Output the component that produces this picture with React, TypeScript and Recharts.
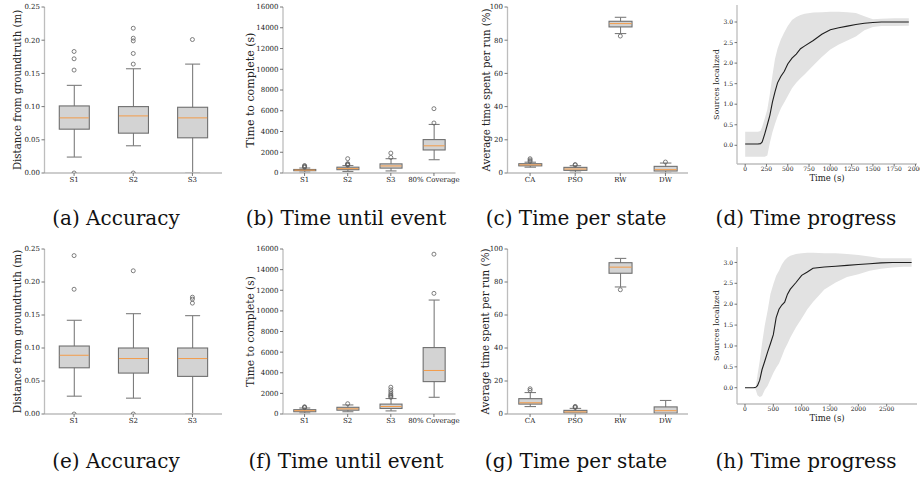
import React from 'react';
import { ComposedChart, Bar, Line, Area, XAxis, YAxis } from 'recharts';

// ---------------- data ----------------
// (a) Accuracy (top row)
const accTopCats = ['S1', 'S2', 'S3'];
const accTopLo = [0.024, 0.041, 0.0];
const accTopQ1 = [0.066, 0.060, 0.053];
const accTopMed = [0.083, 0.086, 0.083];
const accTopQ3 = [0.101, 0.100, 0.099];
const accTopHi = [0.132, 0.157, 0.164];
const accTopOut = [[0.0, 0.155, 0.172, 0.183], [0.0, 0.164, 0.180, 0.199, 0.203, 0.218], [0.201]];

// (b) Time until event (top row)
const evtTopCats = ['S1', 'S2', 'S3', '80% Coverage'];
const evtTopLo = [80, 150, 200, 1280];
const evtTopQ1 = [220, 320, 470, 2220];
const evtTopMed = [280, 420, 680, 2620];
const evtTopQ3 = [340, 560, 880, 3220];
const evtTopHi = [480, 720, 1380, 4680];
const evtTopOut = [[550, 600, 650, 720], [760, 800, 850, 900, 1380], [1500, 1920], [4820, 6200]];

// (c) Time per state (top row)
const stTopCats = ['CA', 'PSO', 'RW', 'DW'];
const stTopLo = [3.5, 0.5, 84, 0];
const stTopQ1 = [4.3, 1.6, 88, 1.2];
const stTopMed = [4.9, 2.4, 90, 2.0];
const stTopQ3 = [5.6, 3.4, 91.4, 4.0];
const stTopHi = [6.5, 4.4, 93.8, 6.0];
const stTopOut = [[7.0, 7.8, 8.6], [4.8, 5.1], [82.5], [6.6]];

// (d) Time progress (top row)
const progTopTime = [0, 150, 180, 200, 230, 260, 290, 320, 350, 380, 420, 460, 500, 550, 600, 650, 700, 800, 900, 1000, 1100, 1200, 1300, 1400, 1500, 1600, 1750, 1922];
const progTopMean = [0.03, 0.03, 0.04, 0.08, 0.28, 0.5, 0.73, 1.05, 1.3, 1.52, 1.68, 1.8, 1.98, 2.12, 2.22, 2.35, 2.42, 2.55, 2.7, 2.81, 2.86, 2.9, 2.94, 2.97, 2.99, 3.0, 3.0, 3.0];
const progTopUpper = [0.33, 0.33, 0.35, 0.45, 0.65, 0.87, 1.25, 1.7, 2.1, 2.35, 2.58, 2.75, 2.9, 3.05, 3.12, 3.17, 3.2, 3.23, 3.24, 3.25, 3.25, 3.24, 3.22, 3.14, 3.07, 3.08, 3.09, 3.09];
const progTopLower = [-0.28, -0.28, -0.28, -0.28, -0.28, -0.25, 0.06, 0.32, 0.52, 0.7, 0.9, 1.05, 1.2, 1.39, 1.52, 1.63, 1.73, 1.94, 2.15, 2.33, 2.45, 2.55, 2.65, 2.8, 2.88, 2.9, 2.9, 2.91];

// (e) Accuracy (bottom row)
const accBotCats = ['S1', 'S2', 'S3'];
const accBotLo = [0.027, 0.024, 0.0];
const accBotQ1 = [0.070, 0.062, 0.057];
const accBotMed = [0.089, 0.084, 0.084];
const accBotQ3 = [0.103, 0.100, 0.100];
const accBotHi = [0.142, 0.152, 0.149];
const accBotOut = [[0.0, 0.189, 0.240], [0.0, 0.217], [0.168, 0.174, 0.177]];

// (f) Time until event (bottom row)
const evtBotCats = ['S1', 'S2', 'S3', '80% Coverage'];
const evtBotLo = [100, 220, 300, 1620];
const evtBotQ1 = [220, 370, 540, 3140];
const evtBotMed = [320, 500, 730, 4220];
const evtBotQ3 = [420, 650, 960, 6440];
const evtBotHi = [580, 880, 1500, 11050];
const evtBotOut = [[620, 660, 700], [1000], [1620, 1720, 1820, 1950, 2150, 2350, 2600], [11700, 15500]];

// (g) Time per state (bottom row)
const stBotCats = ['CA', 'PSO', 'RW', 'DW'];
const stBotLo = [4.5, 0, 77, 0];
const stBotQ1 = [6.0, 0.6, 85.3, 0.5];
const stBotMed = [6.8, 1.3, 89, 2.0];
const stBotQ3 = [9.3, 2.2, 91.7, 4.3];
const stBotHi = [13.0, 3.4, 94.3, 8.2];
const stBotOut = [[14.3, 15.3], [3.9, 4.3, 4.6], [75.3], []];

// (h) Time progress (bottom row)
const progBotTime = [0, 150, 190, 220, 260, 300, 350, 400, 450, 500, 550, 600, 650, 700, 750, 800, 900, 1000, 1100, 1200, 1400, 1600, 1800, 2000, 2200, 2400, 2600, 2800, 2940];
const progBotMean = [0, 0, 0.01, 0.05, 0.18, 0.43, 0.64, 0.86, 1.06, 1.27, 1.68, 1.88, 1.98, 2.05, 2.24, 2.36, 2.52, 2.69, 2.77, 2.86, 2.89, 2.91, 2.93, 2.95, 2.97, 2.99, 3.0, 3.0, 3.0];
const progBotUpper = [0, 0, 0.02, 0.3, 0.64, 1.05, 1.5, 1.85, 2.25, 2.48, 2.68, 2.8, 2.95, 3.05, 3.12, 3.16, 3.2, 3.22, 3.23, 3.23, 3.22, 3.22, 3.2, 3.18, 3.14, 3.1, 3.1, 3.1, 3.1];
const progBotLower = [0, 0, -0.05, -0.18, -0.22, -0.2, -0.05, 0.05, 0.2, 0.35, 0.48, 0.58, 0.75, 0.92, 1.05, 1.2, 1.45, 1.66, 1.88, 2.05, 2.35, 2.52, 2.65, 2.72, 2.8, 2.85, 2.88, 2.9, 2.9];

// tick lists
const accTicks = [0, 0.05, 0.1, 0.15, 0.2, 0.25];
const evtTicks = [0, 2000, 4000, 6000, 8000, 10000, 12000, 14000, 16000];
const stTicks = [0, 20, 40, 60, 80, 100];
const progYTicks = [0, 0.5, 1, 1.5, 2, 2.5, 3];
const progTopXTicks = [0, 250, 500, 750, 1000, 1250, 1500, 1750, 2000];
const progBotXTicks = [0, 500, 1000, 1500, 2000, 2500];

const captionsTop = ['(a) Accuracy', '(b) Time until event', '(c) Time per state', '(d) Time progress'];
const captionsBot = ['(e) Accuracy', '(f) Time until event', '(g) Time per state', '(h) Time progress'];

// ---------------- styles ----------------
const FONT = '"DejaVu Serif", serif';
const SPINE = '#bdbdbd';
const TICKC = '#555555';
const TEXTC = '#222222';
const BOX_FILL = '#d3d3d3';
const BOX_EDGE = '#6f6f6f';
const WHISK = '#7d7d7d';
const MEDIAN = '#f39c4a';
const BAND = '#e2e2e2';
const MEANC = '#1e1e1e';

function buildRows(cats: string[], lo: number[], q1: number[], med: number[], q3: number[], hi: number[], out: number[][]) {
  return cats.map((name, i) => {
    const r: any = { name, whisk: [lo[i], hi[i]], box: [q1[i], q3[i]], q1: q1[i], med: med[i], q3: q3[i] };
    out[i].forEach((v, j) => { r['o' + j] = v; });
    return r;
  });
}

function buildLineRows(t: number[], mean: number[], lower: number[], upper: number[]) {
  return t.map((tt, i) => ({ t: tt, mean: mean[i], band: [lower[i], upper[i]] }));
}

const WhiskerShape = (p: any) => {
  const { x, y, width, height } = p;
  if (typeof x !== 'number' || typeof y !== 'number') return <g />;
  const top = Math.min(y, y + height);
  const bot = Math.max(y, y + height);
  const cx = x + width / 2;
  return (
    <g>
      <line x1={cx} x2={cx} y1={top} y2={bot} stroke={WHISK} strokeWidth={1.1} />
      <line x1={x + width / 4} x2={x + (3 * width) / 4} y1={top} y2={top} stroke={WHISK} strokeWidth={1.1} />
      <line x1={x + width / 4} x2={x + (3 * width) / 4} y1={bot} y2={bot} stroke={WHISK} strokeWidth={1.1} />
    </g>
  );
};

const BoxShape = (p: any) => {
  const { x, y, width, height, payload } = p;
  if (typeof x !== 'number' || typeof y !== 'number') return <g />;
  const top = Math.min(y, y + height);
  const h = Math.abs(height);
  const frac = (payload.q3 - payload.med) / (payload.q3 - payload.q1);
  const ym = top + h * frac;
  return (
    <g>
      <rect x={x} y={top} width={width} height={h} fill={BOX_FILL} stroke={BOX_EDGE} strokeWidth={1.1} />
      <line x1={x + 0.5} x2={x + width - 0.5} y1={ym} y2={ym} stroke={MEDIAN} strokeWidth={1} />
    </g>
  );
};

const OutlierDot = (p: any) => {
  const { cx, cy, value } = p;
  if (value == null || typeof cy !== 'number' || isNaN(cy) || typeof cx !== 'number') return <g key={p.key} />;
  return <circle key={p.key} cx={cx} cy={cy} r={2} fill="none" stroke="#5f5f5f" strokeWidth={0.8} />;
};

const makeYLabel = (text: string, dx: number, fs: number) => (props: any) => {
  const vb = props.viewBox || { x: 0, y: 0, width: 0, height: 0 };
  const x = vb.x + dx;
  const y = vb.y + vb.height / 2;
  return (
    <text x={x} y={y} transform={`rotate(-90 ${x} ${y})`} textAnchor="middle" dominantBaseline="central" fontSize={fs} fontFamily={FONT} fill={TEXTC}>
      {text}
    </text>
  );
};

const makeXLabel = (text: string, dy: number, fs: number) => (props: any) => {
  const vb = props.viewBox || { x: 0, y: 0, width: 0, height: 0 };
  const x = vb.x + vb.width / 2;
  const y = vb.y + dy;
  return (
    <text x={x} y={y} textAnchor="middle" dominantBaseline="central" fontSize={fs} fontFamily={FONT} fill={TEXTC}>
      {text}
    </text>
  );
};

type BoxProps = {
  rows: any[]; nOut: number; left: number; top: number; w: number; h: number;
  mt: number; mr: number; yw: number; xh: number; domain: [number, number]; ticks: number[];
  fmt: (v: number) => string; ylabel: string; labelDx: number; labelFs: number;
};

function BoxPanel(props: BoxProps) {
  const { rows, nOut, left, top, w, h, mt, mr, yw, xh, domain, ticks, fmt, ylabel, labelDx, labelFs } = props;
  const outKeys = Array.from({ length: nOut }, (_, j) => 'o' + j);
  const tickStyle = { fontSize: 7, fill: TEXTC, fontFamily: FONT };
  return (
    <div style={{ position: 'absolute', left, top }}>
      <ComposedChart width={w} height={h} data={rows} margin={{ top: mt, right: mr, left: 0, bottom: 0 }} barCategoryGap="25%" style={{ overflow: 'visible' }}>
        <XAxis xAxisId="main" dataKey="name" interval={0} height={xh} tickSize={3} tickMargin={1}
          axisLine={{ stroke: SPINE, strokeWidth: 1.3 }} tickLine={{ stroke: TICKC, strokeWidth: 0.8 }} tick={tickStyle} />
        <XAxis xAxisId="w" dataKey="name" hide height={0} />
        <XAxis xAxisId="b" dataKey="name" hide height={0} />
        <XAxis xAxisId="top" dataKey="name" orientation="top" height={0} tick={false} tickLine={false} axisLine={{ stroke: SPINE, strokeWidth: 1.3 }} />
        <YAxis yAxisId="main" type="number" domain={domain} ticks={ticks} allowDataOverflow width={yw} tickSize={3} tickMargin={1.5}
          tickFormatter={fmt} interval={0}
          axisLine={{ stroke: SPINE, strokeWidth: 1.3 }} tickLine={{ stroke: TICKC, strokeWidth: 0.8 }} tick={tickStyle}
          label={{ content: makeYLabel(ylabel, labelDx, labelFs) }} />
        <YAxis yAxisId="right" orientation="right" type="number" domain={[0, 1]} width={0} tick={false} tickLine={false} axisLine={{ stroke: SPINE, strokeWidth: 1.3 }} />
        <Bar xAxisId="w" yAxisId="main" dataKey="whisk" shape={WhiskerShape} isAnimationActive={false} />
        <Bar xAxisId="b" yAxisId="main" dataKey="box" shape={BoxShape} isAnimationActive={false} />
        {outKeys.map((k) => (
          <Line key={k} xAxisId="main" yAxisId="main" dataKey={k} stroke="none" dot={OutlierDot} activeDot={false} isAnimationActive={false} />
        ))}
      </ComposedChart>
    </div>
  );
}

type LineProps = {
  rows: any[]; left: number; top: number; w: number; h: number; mt: number; mr: number; yw: number; xh: number;
  xDomain: [number, number]; xTicks: number[]; yDomain: [number, number]; yTicks: number[];
  labelDx: number; xLabelDy: number;
};

function LinePanel(props: LineProps) {
  const { rows, left, top, w, h, mt, mr, yw, xh, xDomain, xTicks, yDomain, yTicks, labelDx, xLabelDy } = props;
  const tickStyle = { fontSize: 6, fill: TEXTC, fontFamily: FONT };
  return (
    <div style={{ position: 'absolute', left, top }}>
      <ComposedChart width={w} height={h} data={rows} margin={{ top: mt, right: mr, left: 0, bottom: 0 }} style={{ overflow: 'visible' }}>
        <XAxis xAxisId="main" type="number" dataKey="t" domain={xDomain} ticks={xTicks} allowDataOverflow interval={0} height={xh}
          tickSize={2.5} tickMargin={0.5} axisLine={{ stroke: SPINE, strokeWidth: 1.3 }} tickLine={{ stroke: TICKC, strokeWidth: 0.8 }} tick={tickStyle}
          label={{ content: makeXLabel('Time (s)', xLabelDy, 8.5) }} />
        <XAxis xAxisId="top" type="number" dataKey="t" domain={xDomain} allowDataOverflow orientation="top" height={0} tick={false} tickLine={false} axisLine={{ stroke: SPINE, strokeWidth: 1.3 }} />
        <YAxis yAxisId="main" type="number" domain={yDomain} ticks={yTicks} allowDataOverflow interval={0} width={yw} tickSize={2.5} tickMargin={1.5}
          tickFormatter={(v: number) => v.toFixed(1)}
          axisLine={{ stroke: SPINE, strokeWidth: 1.3 }} tickLine={{ stroke: TICKC, strokeWidth: 0.8 }} tick={tickStyle}
          label={{ content: makeYLabel('Sources localized', labelDx, 8) }} />
        <YAxis yAxisId="right" orientation="right" type="number" domain={[0, 1]} width={0} tick={false} tickLine={false} axisLine={{ stroke: SPINE, strokeWidth: 1.3 }} />
        <Area xAxisId="main" yAxisId="main" type="linear" dataKey="band" fill={BAND} fillOpacity={1} stroke="none" isAnimationActive={false} activeDot={false} />
        <Line xAxisId="main" yAxisId="main" type="linear" dataKey="mean" stroke={MEANC} strokeWidth={1.1} dot={false} activeDot={false} isAnimationActive={false} />
      </ComposedChart>
    </div>
  );
}

const maxLen = (arr: number[][]) => arr.reduce((m, a) => Math.max(m, a.length), 0);

const fmtAcc = (v: number) => v.toFixed(2);
const fmtInt = (v: number) => String(Math.round(v));

const captionCenters = [116, 346, 576, 806];

export default function App() {
  const accTopRows = buildRows(accTopCats, accTopLo, accTopQ1, accTopMed, accTopQ3, accTopHi, accTopOut);
  const evtTopRows = buildRows(evtTopCats, evtTopLo, evtTopQ1, evtTopMed, evtTopQ3, evtTopHi, evtTopOut);
  const stTopRows = buildRows(stTopCats, stTopLo, stTopQ1, stTopMed, stTopQ3, stTopHi, stTopOut);
  const accBotRows = buildRows(accBotCats, accBotLo, accBotQ1, accBotMed, accBotQ3, accBotHi, accBotOut);
  const evtBotRows = buildRows(evtBotCats, evtBotLo, evtBotQ1, evtBotMed, evtBotQ3, evtBotHi, evtBotOut);
  const stBotRows = buildRows(stBotCats, stBotLo, stBotQ1, stBotMed, stBotQ3, stBotHi, stBotOut);
  const progTopRows = buildLineRows(progTopTime, progTopMean, progTopLower, progTopUpper);
  const progBotRows = buildLineRows(progBotTime, progBotMean, progBotLower, progBotUpper);

  const capStyle = (cx: number, cy: number): React.CSSProperties => ({
    position: 'absolute', left: cx - 115, top: cy - 13, width: 230, height: 26, lineHeight: '26px',
    textAlign: 'center', fontFamily: FONT, fontSize: 20, color: '#111', whiteSpace: 'nowrap',
  });

  return (
    <div style={{ position: 'absolute', left: 0, top: 0, width: 920, height: 477, background: '#fff', overflow: 'hidden' }}>
      {/* top row */}
      <BoxPanel rows={accTopRows} nOut={maxLen(accTopOut)} left={0} top={0} w={230} h={195} mt={7} mr={8} yw={44.5} xh={22}
        domain={[0, 0.25]} ticks={accTicks} fmt={fmtAcc} ylabel="Distance from groundtruth (m)" labelDx={17} labelFs={10.2} />
      <BoxPanel rows={evtTopRows} nOut={maxLen(evtTopOut)} left={225} top={0} w={240} h={195} mt={7} mr={9.5} yw={58} xh={22}
        domain={[0, 16000]} ticks={evtTicks} fmt={fmtInt} ylabel="Time to complete (s)" labelDx={25} labelFs={11} />
      <BoxPanel rows={stTopRows} nOut={maxLen(stTopOut)} left={455} top={0} w={235} h={195} mt={7} mr={2} yw={52.5} xh={22}
        domain={[0, 100]} ticks={stTicks} fmt={fmtInt} ylabel="Average time spent per run (%)" labelDx={31} labelFs={10.2} />
      <LinePanel rows={progTopRows} left={690} top={0} w={230} h={195} mt={5} mr={3} yw={47} xh={31}
        xDomain={[-96, 2018]} xTicks={progTopXTicks} yDomain={[-0.455, 3.414]} yTicks={progYTicks} labelDx={26.5} xLabelDy={14.3} />

      {/* bottom row */}
      <BoxPanel rows={accBotRows} nOut={maxLen(accBotOut)} left={0} top={235} w={230} h={200} mt={14} mr={8} yw={44.5} xh={21}
        domain={[0, 0.25]} ticks={accTicks} fmt={fmtAcc} ylabel="Distance from groundtruth (m)" labelDx={17} labelFs={10.4} />
      <BoxPanel rows={evtBotRows} nOut={maxLen(evtBotOut)} left={225} top={235} w={240} h={200} mt={14} mr={9.5} yw={58} xh={21}
        domain={[0, 16000]} ticks={evtTicks} fmt={fmtInt} ylabel="Time to complete (s)" labelDx={25} labelFs={10.6} />
      <BoxPanel rows={stBotRows} nOut={maxLen(stBotOut)} left={455} top={235} w={235} h={200} mt={14} mr={2} yw={52.5} xh={21}
        domain={[0, 100]} ticks={stTicks} fmt={fmtInt} ylabel="Average time spent per run (%)" labelDx={30} labelFs={10.4} />
      <LinePanel rows={progBotRows} left={690} top={235} w={230} h={200} mt={12} mr={3} yw={47} xh={31}
        xDomain={[-141, 3035]} xTicks={progBotXTicks} yDomain={[-0.39, 3.37]} yTicks={progYTicks} labelDx={26.5} xLabelDy={14} />

      {captionsTop.map((c, i) => (
        <div key={c} style={capStyle(captionCenters[i], 218)}>{c}</div>
      ))}
      {captionsBot.map((c, i) => (
        <div key={c} style={capStyle(captionCenters[i], 461)}>{c}</div>
      ))}
    </div>
  );
}
